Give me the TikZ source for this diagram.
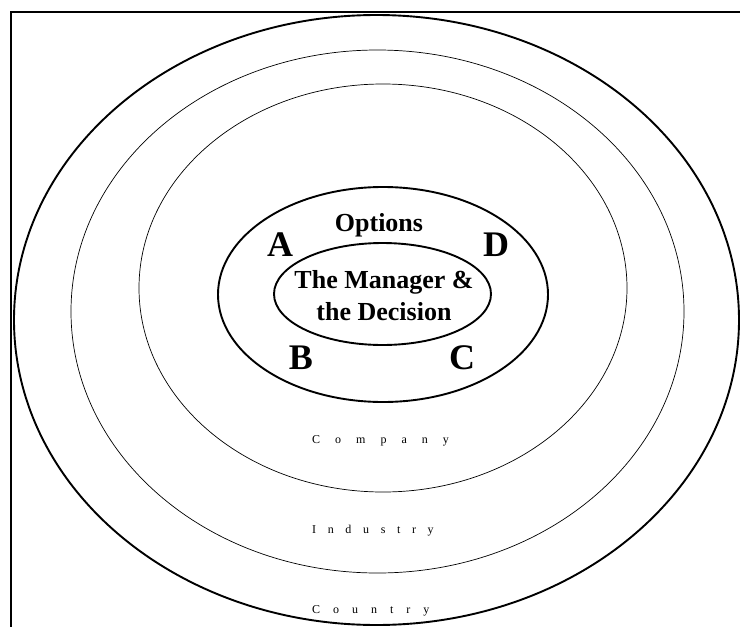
\documentclass[tikz,border=0pt]{standalone}
\usepackage{fontspec}
\setmainfont{Liberation Serif}

\begin{document}
\begin{tikzpicture}[x=1pt,y=-1pt,
    ring/.style={line width=0.7pt},
    thickring/.style={line width=1.9pt},
    big/.style={font=\fontsize{26}{32}\selectfont\bfseries,align=center},
    letter/.style={font=\fontsize{36}{40}\selectfont\bfseries},
    level/.style={anchor=base west,inner sep=0pt,font=\fontsize{12}{14}\selectfont}]
            \useasboundingbox (0,0) rectangle (740,627);
            \draw[line width=1.2pt] (11,627) -- (11,12) -- (740,12);
            % rings
            \draw[thickring] (376.5,320) ellipse [x radius=362.5, y radius=305];
            \draw[ring] (377.5,311.5) ellipse [x radius=306.5, y radius=261.5];
            \draw[ring] (383,288) ellipse [x radius=244, y radius=204];
            \draw[thickring] (383,294.5) ellipse [x radius=165, y radius=107.5];
            \draw[thickring] (382.5,294) ellipse [x radius=108.5, y radius=51];
            % texts
            \node[big] (options) at (379,225) {Options};
            \node[big] (manager) at (384,296) {The Manager \&\\the Decision};
            \begin{scope}[every node/.style={letter}]
                \node (a) at (280,245) {A};
                \node (d) at (496,245) {D};
                \node (b) at (301,358) {B};
                \node (c) at (462,358) {C};
            \end{scope}
            \node[level] (company) at (312,443) {\addfontfeatures{LetterSpace=125}Company};
            \node[level] (industry) at (312,533) {\addfontfeatures{LetterSpace=97}Industry};
            \node[level] (country) at (312,613) {\addfontfeatures{LetterSpace=108}Country};
        \end{tikzpicture}
\end{document}
